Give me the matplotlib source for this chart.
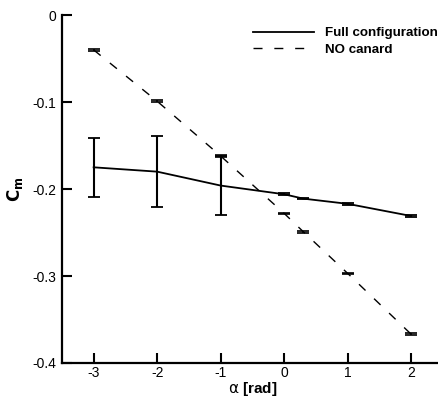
import matplotlib.pyplot as plt
from matplotlib.lines import Line2D

plt.rcParams['font.family'] = ['Liberation Sans', 'DejaVu Sans']
plt.rcParams['axes.unicode_minus'] = False

# Datos
alpha = [-3, -2, -1, 0, 0.3, 1, 2]
cm_full = [-0.175, -0.180, -0.196, -0.206, -0.211, -0.217, -0.231]
err_full = [0.034, 0.041, 0.034, 0.001, 0.001, 0.001, 0.001]
cm_nocanard = [-0.040, -0.099, -0.162, -0.228, -0.249, -0.297, -0.367]
err_nocanard = [0.001, 0.001, 0.001, 0.001, 0.001, 0.001, 0.001]

xticks = [-3, -2, -1, 0, 1, 2]
yticks = [0, -0.1, -0.2, -0.3, -0.4]
ytick_labels = ['0', '-0.1', '-0.2', '-0.3', '-0.4']

fig = plt.figure(figsize=(4.39, 3.98), dpi=100)
ax = fig.add_axes([0.141, 0.088, 0.868, 0.874])

dash_style = (6.5, 8.5)

ax.errorbar(alpha, cm_full, yerr=err_full, color='black', lw=1.3,
            capsize=4.5, capthick=1.3, elinewidth=1.5)
ax.errorbar(alpha, cm_nocanard, yerr=err_nocanard, color='black', lw=1.0,
            dashes=dash_style, capsize=4.5, capthick=1.2, elinewidth=1.2)

ax.set_xlim(-3.5, 2.5)
ax.set_ylim(-0.4, 0)
ax.set_xticks(xticks)
ax.set_xticklabels([str(v) for v in xticks])
ax.set_yticks(yticks)
ax.set_yticklabels(ytick_labels)
ax.tick_params(direction='in', length=7, width=1.5, labelsize=10)
ax.tick_params(axis='x', pad=2)
ax.tick_params(axis='y', pad=4)

for s in ['top', 'right']:
    ax.spines[s].set_visible(False)
for s in ['left', 'bottom']:
    ax.spines[s].set_linewidth(1.6)

ax.set_xlabel(r'$\mathrm{\alpha}$ [rad]', fontsize=11, fontweight='bold', labelpad=0)
ax.set_ylabel(r'$\mathbf{C}_\mathbf{m}$', fontsize=12, labelpad=5)

handles = [Line2D([], [], color='black', lw=1.3),
           Line2D([], [], color='black', lw=1.0, dashes=dash_style)]
ax.legend(handles, ['Full configuration', 'NO canard'], loc='upper right',
          bbox_to_anchor=(1.017, 1.0), frameon=False,
          prop={'weight': 'bold', 'size': 9.6}, handlelength=4.6,
          handletextpad=0.8, labelspacing=0.3)

plt.savefig('out.png', dpi=100)
